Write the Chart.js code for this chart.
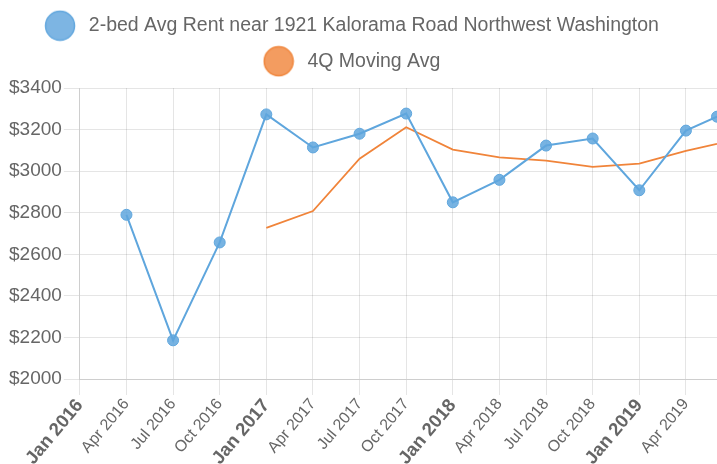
<!DOCTYPE html>
<html>
<head>
<meta charset="utf-8">
<script src="https://cdn.jsdelivr.net/npm/chart.js@4/dist/chart.umd.min.js"></script>
<style>
  html, body { margin: 0; padding: 0; background: #fff; overflow: hidden; }
  #wrap { width: 717px; height: 464px; }
</style>
</head>
<body>
<div id="wrap"><canvas id="rentChart" width="717" height="464"></canvas></div>
<script>
// quarter dates of each observation (YYYY-MM)
const obsDates = ['2016-04', '2016-07', '2016-10', '2017-01', '2017-04', '2017-07', '2017-10',
                  '2018-01', '2018-04', '2018-07', '2018-10', '2019-01', '2019-04', '2019-06'];
const rentValues = [2790, 2186, 2657, 3273, 3114, 3180, 3277, 2850, 2958, 3123, 3157, 2908, 3195, 3262];
const movingAvg = [null, null, null, 2727, 2808, 3060, 3211, 3104, 3066, 3051, 3021, 3036, 3097, 3131];
const tickLabels = ['Jan 2016', 'Apr 2016', 'Jul 2016', 'Oct 2016', 'Jan 2017', 'Apr 2017', 'Jul 2017',
                    'Oct 2017', 'Jan 2018', 'Apr 2018', 'Jul 2018', 'Oct 2018', 'Jan 2019', 'Apr 2019'];
const rentLabel = '2-bed Avg Rent near 1921 Kalorama Road Northwest Washington';
const avgLabel = '4Q Moving Avg';

// months since Jan 2016
function monthIndex(d) {
    const [y, m] = d.split('-').map(Number);
    return (y - 2016) * 12 + (m - 1);
}

const rentPoints = obsDates.map((d, i) => ({ x: monthIndex(d), y: rentValues[i] }));
const avgPoints = obsDates.map((d, i) => ({ x: monthIndex(d), y: movingAvg[i] }));

const fontFamily = '"Liberation Sans", Arial, Helvetica, sans-serif';
const gridColor = 'rgba(0,0,0,0.1)';

// big legend dots (chart.js caps point legend size to the font size)
function legendDot(fill, stroke) {
    const c = document.createElement('canvas');
    c.width = 32;
    c.height = 32;
    const g = c.getContext('2d');
    g.beginPath();
    g.arc(16, 16, 14.5, 0, Math.PI * 2);
    g.fillStyle = fill;
    g.fill();
    g.lineWidth = 1.5;
    g.strokeStyle = stroke;
    g.stroke();
    return c;
}
const dots = [legendDot('#7db5e3', '#64a8de'), legendDot('#f39c60', '#f0873e')];

const legendTweaks = {
    id: 'legendTweaks',
    beforeLayout(chart) {
        const lg = chart.legend;
        if (lg && !lg._patched) {
            const fit = lg.fit;
            lg.fit = function () {
                fit.call(this);
                this.height += 7;
            };
            lg._patched = true;
        }
    },
    afterLayout(chart) {
        chart.legend.left -= 12;
        chart.legend.right -= 12;
    }
};

const ctx = document.getElementById('rentChart').getContext('2d');
new Chart(ctx, {
    type: 'line',
    data: {
        datasets: [{
            label: rentLabel,
            data: rentPoints,
            borderColor: '#5fa6dd',
            backgroundColor: 'rgba(95,166,221,0.85)',
            borderWidth: 2,
            pointRadius: 5.5,
            pointBorderWidth: 1,
            tension: 0
        }, {
            label: avgLabel,
            data: avgPoints,
            borderColor: '#f0843a',
            backgroundColor: 'rgba(240,140,80,0.85)',
            borderWidth: 1.8,
            pointRadius: 0,
            tension: 0
        }]
    },
    options: {
        responsive: false,
        animation: false,
        layout: { autoPadding: false, padding: { left: 7, right: 0, top: 0, bottom: 0 } },
        plugins: {
            legend: {
                position: 'top',
                labels: {
                    usePointStyle: true,
                    pointStyleWidth: 38,
                    color: '#666',
                    padding: 16,
                    font: { family: fontFamily, size: 19.5 },
                    generateLabels: chart => {
                        const items = Chart.defaults.plugins.legend.labels.generateLabels(chart);
                        items.forEach((it, i) => { it.pointStyle = dots[i]; });
                        return items;
                    }
                }
            },
            tooltip: { enabled: false }
        },
        scales: {
            x: {
                type: 'linear',
                min: 0,
                max: 41,
                afterBuildTicks: scale => {
                    scale.ticks = scale.ticks.filter(t => t.value % 3 === 0);
                },
                afterFit: scale => {
                    scale.paddingLeft = 0;
                    scale.paddingRight = 0;
                    scale.height = 85;
                },
                grid: { color: gridColor, tickLength: 16 },
                border: { color: gridColor },
                ticks: {
                    stepSize: 3,
                    autoSkip: false,
                    maxRotation: 50,
                    minRotation: 50,
                    padding: 0,
                    color: '#666',
                    font: c => {
                        const major = c.tick && c.tick.value % 12 === 0;
                        return { family: fontFamily, size: major ? 18.5 : 16, weight: major ? 'bold' : 'normal' };
                    },
                    callback: v => tickLabels[v / 3] || ''
                }
            },
            y: {
                min: 2000,
                max: 3400,
                grid: { color: gridColor, tickLength: 16 },
                border: { color: gridColor },
                ticks: {
                    stepSize: 200,
                    padding: 2,
                    color: '#666',
                    font: { family: fontFamily, size: 19 },
                    callback: v => '$' + v
                }
            }
        }
    },
    plugins: [legendTweaks]
});
</script>
</body>
</html>
